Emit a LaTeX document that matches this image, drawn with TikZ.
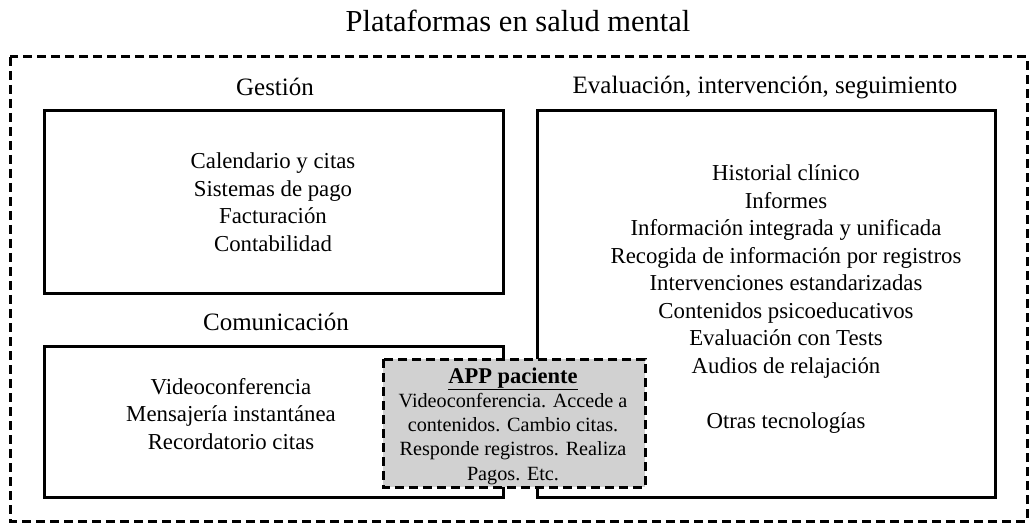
\documentclass[tikz,border=0pt]{standalone}
\usepackage{fontspec}
\setmainfont{Liberation Serif}
\begin{document}
\begin{tikzpicture}[x=1pt,y=-1pt,
  solidbox/.style={draw=black,line width=3pt},
  dashbox/.style={draw=black,line width=3pt,dash pattern=on 9pt off 5pt},
  label/.style={font=\fontsize{25}{30}\selectfont,anchor=center},
  body/.style={font=\fontsize{22.8}{27.5}\selectfont,align=center,anchor=center},
  appbody/.style={font=\fontsize{20.2}{24.3}\selectfont,align=center,anchor=center,inner sep=0pt}]
\useasboundingbox (0,0) rectangle (1032,526);
\node[font=\fontsize{30.5}{35}\selectfont] (title) at (518,21) {Plataformas en salud mental};
\draw[dashbox] (10,57) rectangle (1027,521);
% Gestion
\node[label] (lg) at (275,87) {Gestión};
\draw[solidbox] (44,111) rectangle (503,293);
\node[body] (tg) at (273,202) {Calendario y citas\\Sistemas de pago\\Facturación\\Contabilidad};
% Comunicacion
\node[label] (lc) at (276,322) {Comunicación};
\draw[solidbox] (44,346) rectangle (503,497);
\node[body] (tc) at (231,414) {Videoconferencia\\Mensajería instantánea\\Recordatorio citas};
% Evaluacion
\node[label] (le) at (765,88) {Evaluación, intervención, seguimiento};
\draw[solidbox] (537,111) rectangle (995,497);
\node[body] (te) at (786,299) {Historial clínico\\Informes\\Información integrada y unificada\\Recogida de información por registros\\Intervenciones estandarizadas\\Contenidos psicoeducativos\\Evaluación con Tests\\Audios de relajación\\[27.5pt]Otras tecnologías};
% APP
\draw[dashbox,fill=black!18] (383,359) rectangle (645,487);
\node[appbody] (ta) at (513,426) {{\fontsize{22.5}{24.3}\selectfont\textbf{\underline{APP paciente}}}\\Videoconferencia. Accede a\\contenidos. Cambio citas.\\Responde registros. Realiza\\Pagos. Etc.};
\end{tikzpicture}
\end{document}
